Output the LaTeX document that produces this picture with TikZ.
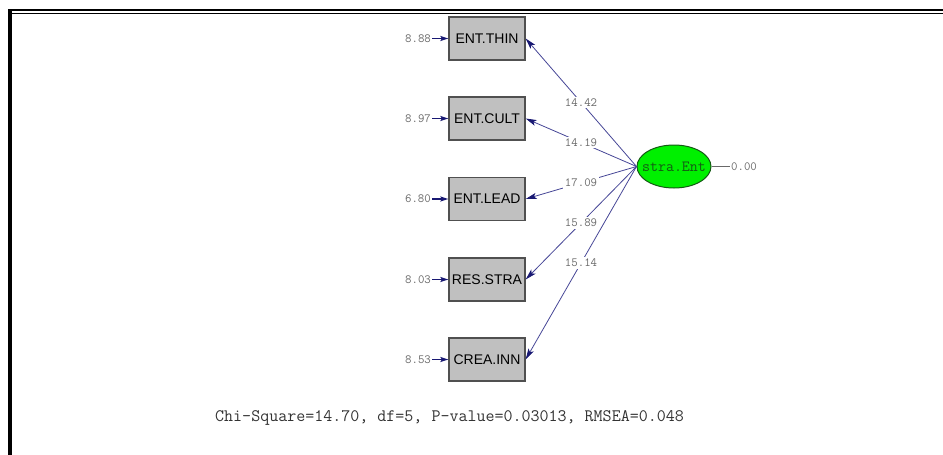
\documentclass[tikz,border=0pt]{standalone}
\usepackage{fontspec}
\setmainfont{Liberation Sans}
\usetikzlibrary{shapes.geometric,arrows.meta}
\definecolor{navy}{RGB}{25,25,115}
\definecolor{linecol}{RGB}{70,70,150}
\definecolor{boxfill}{RGB}{192,192,192}
\definecolor{boxdraw}{RGB}{80,80,80}
\definecolor{labgray}{RGB}{105,105,105}
\definecolor{entgreen}{RGB}{0,240,0}
\definecolor{entdraw}{RGB}{20,90,20}
\tikzset{
  obsbox/.style={draw=boxdraw, line width=1.3pt, fill=boxfill, minimum width=76pt, minimum height=43pt, inner sep=0pt, font=\fontsize{14}{15}\selectfont},
  latent/.style={ellipse, draw=entdraw, line width=1pt, fill=entgreen, minimum width=74pt, minimum height=43pt, inner xsep=-6.5pt, inner ysep=0pt, text=entdraw, font=\ttfamily\fontsize{15.5}{16}\selectfont},
  numlab/.style={text=labgray, font=\ttfamily\fontsize{12.5}{13}\selectfont, inner sep=1pt},
  pathlab/.style={numlab, fill=white, inner sep=2pt},
  loadarrow/.style={draw=linecol, line width=0.8pt, -{Stealth[length=11pt,width=6pt,inset=2.5pt,color=navy]}},
  errarrow/.style={draw=navy, line width=1.3pt, -{Stealth[length=8pt,width=5pt,inset=1.5pt,color=navy]}},
}
\begin{document}
\begin{tikzpicture}[x=1pt,y=-1pt]
\useasboundingbox (0,0) rectangle (943,455);
% frame
\draw[line width=2.5pt] (8,10.2) -- (943,10.2);
\draw[line width=1pt] (12,13) -- (943,13);
\draw[line width=4pt] (10,9) -- (10,455);
% boxes
\node[obsbox] (b1) at (487,38.5) {ENT.THIN};
\node[obsbox] (b2) at (487,118.5) {ENT.CULT};
\node[obsbox] (b3) at (487,199) {ENT.LEAD};
\node[obsbox] (b4) at (487,279.5) {RES.STRA};
\node[obsbox] (b5) at (487,359.5) {CREA.INN};
% error labels
\node[numlab] (e1) at (418,38.5) {8.88};
\node[numlab] (e2) at (418,118.5) {8.97};
\node[numlab] (e3) at (418,199) {6.80};
\node[numlab] (e4) at (418,279.5) {8.03};
\node[numlab] (e5) at (418,359.5) {8.53};
\foreach \i in {1,...,5} \draw[errarrow] (e\i.east) -- (b\i.west);
% latent
\node[latent] (lat) at (674,166.5) {stra.Ent};
\node[numlab] (v0) at (744,166.5) {0.00};
\draw[labgray, line width=0.6pt] (lat.east) -- (v0.west);
% loadings
\draw[loadarrow] (lat.west) -- (b1.east) node[pathlab, pos=0.5] {14.42};
\draw[loadarrow] (lat.west) -- (b2.east) node[pathlab, pos=0.5] {14.19};
\draw[loadarrow] (lat.west) -- (b3.east) node[pathlab, pos=0.5] {17.09};
\draw[loadarrow] (lat.west) -- (b4.east) node[pathlab, pos=0.5] {15.89};
\draw[loadarrow] (lat.west) -- (b5.east) node[pathlab, pos=0.5] {15.14};
% fit statistics
\node[text=black!80, font=\ttfamily\fontsize{17.5}{18}\selectfont, anchor=west, inner sep=0pt] (fit) at (215,418) {Chi-Square=14.70, df=5, P-value=0.03013, RMSEA=0.048};
\end{tikzpicture}
\end{document}
